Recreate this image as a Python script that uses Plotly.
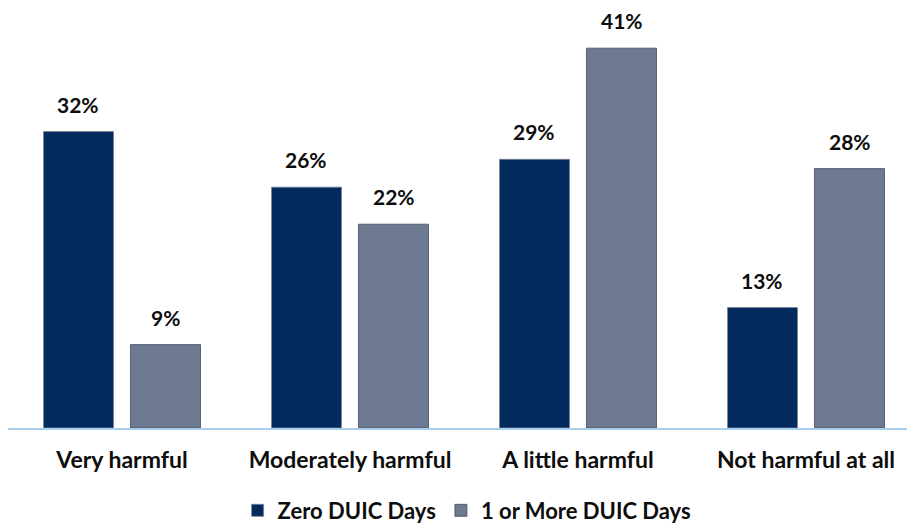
import plotly.graph_objects as go

categories = ["Very harmful", "Moderately harmful", "A little harmful", "Not harmful at all"]
zero_duic = [32, 26, 29, 13]
one_plus_duic = [9, 22, 41, 28]
series_names = ["Zero DUIC Days", "1 or More DUIC Days"]

NAVY = "#022a5c"
SLATE = "#6d7a91"
FONT = "Lato"
INK = "#0d0d0d"

fig = go.Figure()
fig.add_bar(x=categories, y=zero_duic, name=series_names[0],
            marker=dict(color=NAVY, line=dict(color="rgba(120,130,150,0.8)", width=1)))
fig.add_bar(x=categories, y=one_plus_duic, name=series_names[1],
            marker=dict(color=SLATE, line=dict(color="rgba(70,75,90,0.8)", width=1)))

# value labels above each bar (offset of each bar within its group)
group_off = 0.191
for i, (a, b) in enumerate(zip(zero_duic, one_plus_duic)):
    for dx, v in ((-group_off, a), (group_off, b)):
        fig.add_annotation(x=i + dx, y=v, text=f"{v}%", showarrow=False,
                           yanchor="bottom", yshift=13,
                           font=dict(family=FONT, size=21, color=INK, weight="bold"))

fig.update_layout(
    width=907, height=523,
    margin=dict(l=8, r=0, t=0, b=95, autoexpand=False),
    plot_bgcolor="white", paper_bgcolor="white",
    barmode="group", bargap=0.237, bargroupgap=0.195,
    font=dict(family=FONT, size=21, color=INK),
    showlegend=True,
    legend=dict(orientation="h", x=0.515, xanchor="center", xref="container",
                y=0.064, yanchor="top", yref="container",
                font=dict(family=FONT, size=22, color=INK, weight="bold"),
                itemwidth=30, traceorder="normal"),
    xaxis=dict(range=[-0.5, 3.443], showgrid=False, showline=True,
               linecolor="#a9cfee", linewidth=2, automargin=False,
               ticks="outside", ticklen=10, tickcolor="rgba(0,0,0,0)",
               tickfont=dict(family=FONT, size=23, color=INK, weight="bold")),
    yaxis=dict(range=[0, 46.2], visible=False),
)

fig.write_html("out.html")
